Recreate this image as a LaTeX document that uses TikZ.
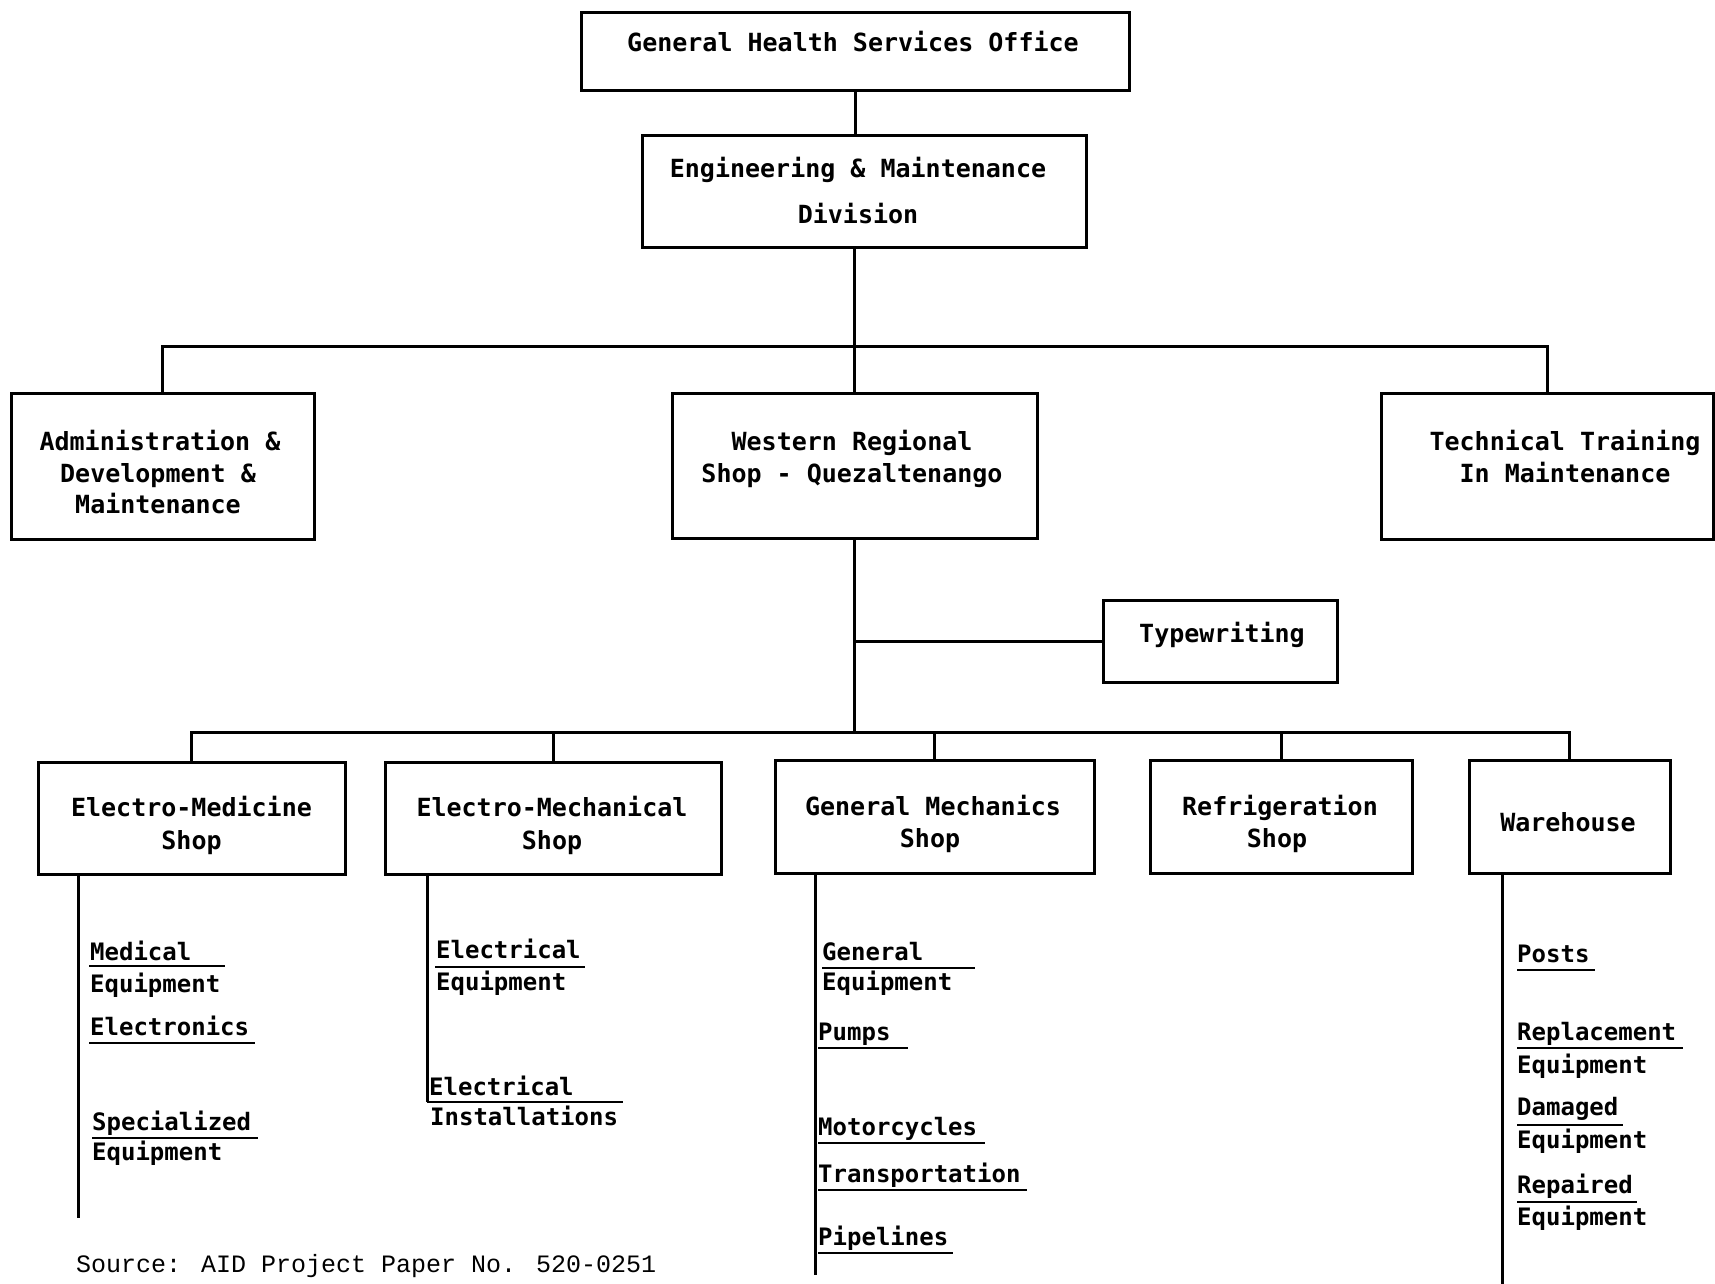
\documentclass[tikz,border=0pt]{standalone}
\usepackage{fontspec}
\newfontfamily\twfont{DejaVu Sans Mono}
\newfontfamily\srcfont{Liberation Mono}
\begin{document}
\begin{tikzpicture}[x=1pt,y=-1pt,
  box/.style={draw, line width=3pt, inner sep=0pt, outer sep=0pt},
  conn/.style={line width=3pt},
  boxtxt/.style={font=\twfont\bfseries\fontsize{25}{30}\selectfont, inner sep=0pt, anchor=base},
  item/.style={font=\twfont\bfseries\fontsize{24}{28}\selectfont, inner sep=0pt, anchor=base west},
  srctxt/.style={font=\srcfont\fontsize{25}{30}\selectfont, inner sep=0pt, anchor=base west},
  uline/.style={line width=2.3pt},
]
\fill[white] (0,0) rectangle (1715,1284);
\useasboundingbox (0,0) rectangle (1715,1284);

% ---------- boxes ----------
\node[box, minimum width=548pt, minimum height=78pt]  (ghso)  at (855,52) {};
\node[box, minimum width=444pt, minimum height=111pt] (em)    at (864,191.5) {};
\node[box, minimum width=303pt, minimum height=146pt] (admin) at (162.5,466) {};
\node[box, minimum width=365pt, minimum height=145pt] (west)  at (854.5,465.5) {};
\node[box, minimum width=332pt, minimum height=146pt] (tech)  at (1547,466) {};
\node[box, minimum width=234pt, minimum height=82pt]  (typ)   at (1220,641) {};
\node[box, minimum width=307pt, minimum height=112pt] (emed)  at (191.5,818) {};
\node[box, minimum width=336pt, minimum height=112pt] (emech) at (553,818) {};
\node[box, minimum width=319pt, minimum height=113pt] (gmech) at (934.5,817) {};
\node[box, minimum width=262pt, minimum height=113pt] (refr)  at (1281,817) {};
\node[box, minimum width=201pt, minimum height=113pt] (ware)  at (1569.5,817) {};

% ---------- box texts ----------
\node[boxtxt] (ghsoT)  at (853,52)  {General Health Services Office};
\node[boxtxt] (emT1)   at (858,178) {Engineering \& Maintenance};
\node[boxtxt] (emT2)   at (858,223) {Division};
\node[boxtxt] (adT1)   at (160,450) {Administration \&};
\node[boxtxt] (adT2)   at (158,482) {Development \&};
\node[boxtxt] (adT3)   at (158,513) {Maintenance};
\node[boxtxt] (weT1)   at (852,450) {Western Regional};
\node[boxtxt] (weT2)   at (852,482) {Shop - Quezaltenango};
\node[boxtxt] (teT1)   at (1565,450) {Technical Training};
\node[boxtxt] (teT2)   at (1565,482) {In Maintenance};
\node[boxtxt] (tyT)    at (1222,642) {Typewriting};
\node[boxtxt] (e1T1)   at (191.5,816) {Electro-Medicine};
\node[boxtxt] (e1T2)   at (191.5,849) {Shop};
\node[boxtxt] (e2T1)   at (552,816) {Electro-Mechanical};
\node[boxtxt] (e2T2)   at (552,849) {Shop};
\node[boxtxt] (gmT1)   at (933,815) {General Mechanics};
\node[boxtxt] (gmT2)   at (930,847) {Shop};
\node[boxtxt] (reT1)   at (1280,815) {Refrigeration};
\node[boxtxt] (reT2)   at (1277,847) {Shop};
\node[boxtxt] (waT)    at (1568,831) {Warehouse};

% ---------- connectors ----------
\coordinate (bus1) at (0,346);
\coordinate (bus2) at (0,732);
\draw[conn] (ghso.south) -- (ghso.south |- em.north);
\draw[conn] (west.north |- em.south) -- (west.north);
\draw[conn] (admin.north) |- (bus1 -| tech.north) -- (tech.north);
\draw[conn] (west.south) -- (west.south |- bus2);
\draw[conn] (typ.west) -- (typ.west -| west.south);
\draw[conn] (emed.north) |- (bus2 -| ware.north) -- (ware.north);
\draw[conn] (emech.north) -- (emech.north |- bus2);
\draw[conn] (gmech.north) -- (gmech.north |- bus2);
\draw[conn] (refr.north) -- (refr.north |- bus2);

% ---------- sub-lists ----------
\coordinate (l1) at (78,1218);
\coordinate (l2) at (427,1102);
\coordinate (l3) at (815,1275);
\coordinate (l4) at (1502,1284);
\draw[conn] (l1 |- emed.south) -- (l1);
\draw[conn] (l2 |- emech.south) -- (l2);
\draw[conn] (l3 |- gmech.south) -- (l3);
\draw[conn] (l4 |- ware.south) -- (l4);

% Electro-Medicine
\node[item] (i1) at (90,960)  {Medical};
\node[item] (i2) at (90,992)  {Equipment};
\node[item] (i3) at (90,1035) {Electronics};
\node[item] (i4) at (92,1130) {Specialized};
\node[item] (i5) at (92,1160) {Equipment};
\draw[uline] (89,966) -- (225,966);
\draw[uline] (89,1043) -- (255,1043);
\draw[uline] (92,1138) -- (258,1138);

% Electro-Mechanical
\node[item] (j1) at (436,958)  {Electrical};
\node[item] (j2) at (436,990)  {Equipment};
\node[item] (j3) at (429,1095) {Electrical};
\node[item] (j4) at (430,1125) {Installations};
\draw[uline] (435,967) -- (585,967);
\draw[uline] (427,1102) -- (623,1102);

% General Mechanics
\node[item] (k1) at (822,960)  {General};
\node[item] (k2) at (822,990)  {Equipment};
\node[item] (k3) at (818,1040) {Pumps};
\node[item] (k4) at (818,1135) {Motorcycles};
\node[item] (k5) at (818,1182) {Transportation};
\node[item] (k6) at (818,1245) {Pipelines};
\draw[uline] (822,968) -- (975,968);
\draw[uline] (818,1048) -- (908,1048);
\draw[uline] (818,1143) -- (985,1143);
\draw[uline] (818,1190) -- (1027,1190);
\draw[uline] (818,1253) -- (953,1253);

% Warehouse
\node[item] (w1) at (1517,962)  {Posts};
\node[item] (w2) at (1517,1040) {Replacement};
\node[item] (w3) at (1517,1073) {Equipment};
\node[item] (w4) at (1517,1115) {Damaged};
\node[item] (w5) at (1517,1148) {Equipment};
\node[item] (w6) at (1517,1193) {Repaired};
\node[item] (w7) at (1517,1225) {Equipment};
\draw[uline] (1517,970) -- (1595,970);
\draw[uline] (1517,1048) -- (1683,1048);
\draw[uline] (1517,1125) -- (1623,1125);
\draw[uline] (1517,1202) -- (1637,1202);

% Source
\node[srctxt] (src) at (76,1272) {Source: AID Project Paper No. 520-0251};
\end{tikzpicture}
\end{document}
